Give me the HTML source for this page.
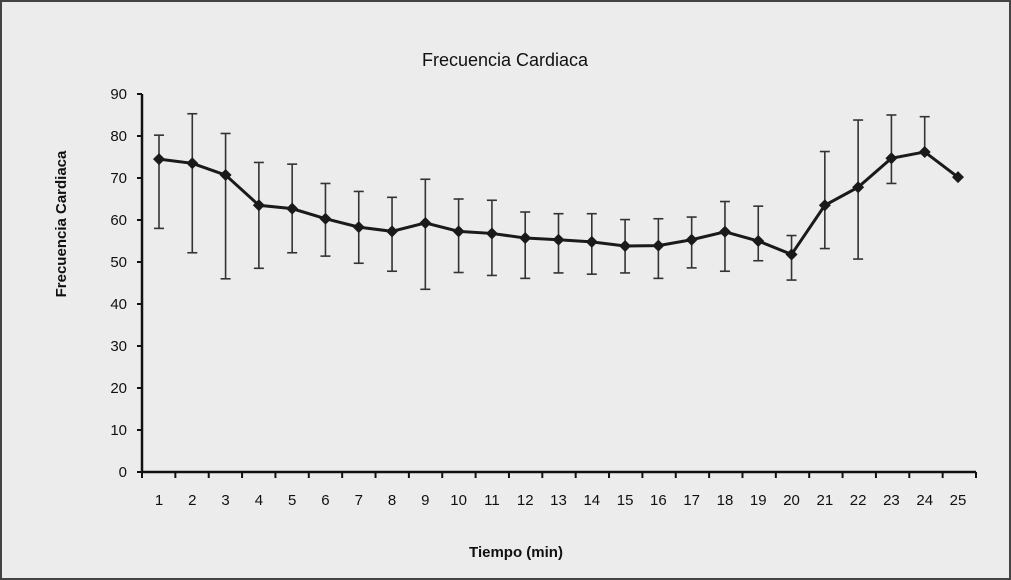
<!DOCTYPE html>
<html><head><meta charset="utf-8"><style>
html,body{margin:0;padding:0;background:#fff}
svg{display:block;font-family:"Liberation Sans",Arial,sans-serif}
</style></head><body>
<svg width="1011" height="580" viewBox="0 0 1011 580">
<rect x="1" y="1" width="1009" height="578" fill="#ececec" stroke="#444" stroke-width="2"/>
<text x="505" y="66" text-anchor="middle" font-size="18" fill="#111">Frecuencia Cardiaca</text>
<text transform="translate(66,224) rotate(-90)" text-anchor="middle" font-size="15" font-weight="bold" fill="#111">Frecuencia Cardiaca</text>
<text x="516" y="557" text-anchor="middle" font-size="15" font-weight="bold" fill="#111">Tiempo (min)</text>
<g id="axes"></g>
<g id="marks"></g>
</svg>
<script>
const categories=[1,2,3,4,5,6,7,8,9,10,11,12,13,14,15,16,17,18,19,20,21,22,23,24,25];
const meanValues=[74.5,73.5,70.7,63.5,62.7,60.3,58.3,57.3,59.3,57.3,56.8,55.7,55.3,54.8,53.8,53.9,55.3,57.2,55,51.8,63.5,67.8,74.7,76.2,70.2];
const upperValues=[80.2,85.3,80.6,73.7,73.3,68.7,66.8,65.4,69.7,65,64.7,61.9,61.5,61.5,60.1,60.3,60.7,64.4,63.3,56.3,76.3,83.8,85,84.6,null];
const lowerValues=[58,52.2,46,48.5,52.2,51.4,49.7,47.8,43.5,47.5,46.8,46.1,47.4,47.1,47.4,46.1,48.6,47.8,50.3,45.7,53.2,50.7,68.7,null,null];
const yTicks=[0,10,20,30,40,50,60,70,80,90];
const NS="http://www.w3.org/2000/svg";
const y=v=>472-v*(378/90);
const x=c=>159+(c-1)*(799/24);
const axes=document.getElementById('axes'), marks=document.getElementById('marks');
function mk(tag,attrs,parent){const e=document.createElementNS(NS,tag);for(const k in attrs)e.setAttribute(k,attrs[k]);parent.appendChild(e);return e;}
let l=mk('line',{x1:142,y1:y(90),x2:142,y2:473,stroke:'#111','stroke-width':2.5},axes);


l=mk('line',{x1:141,y1:472,x2:976,y2:472,stroke:'#111','stroke-width':2.5},axes);


yTicks.forEach(t=>{
  const tk=mk('line',{x1:137,y1:y(t),x2:142,y2:y(t),stroke:'#111','stroke-width':2},axes);
  
  
  const tx=mk('text',{x:127,y:y(t)+5,'text-anchor':'end','font-size':15,fill:'#111'},axes);
  tx.textContent=t;
  
  
});
for(let i=0;i<=categories.length;i++){
  const px=142+i*(834/25);
  const tk=mk('line',{x1:px,y1:472,x2:px,y2:478,stroke:'#111','stroke-width':2},axes);
  
  
}
categories.forEach(c=>{
  const tx=mk('text',{x:x(c),y:505,'text-anchor':'middle','font-size':15,fill:'#111'},axes);
  tx.textContent=c;
  
  
});
categories.forEach((c,i)=>{
  const px=x(c), top=upperValues[i]!=null?upperValues[i]:meanValues[i], bot=lowerValues[i]!=null?lowerValues[i]:meanValues[i];
  const g=mk('g',{stroke:'#333','stroke-width':1.6},marks);
  
  
  mk('line',{x1:px,y1:y(top),x2:px,y2:y(bot)},g);
  if(upperValues[i]!=null)mk('line',{x1:px-5,y1:y(top),x2:px+5,y2:y(top)},g);
  if(lowerValues[i]!=null)mk('line',{x1:px-5,y1:y(bot),x2:px+5,y2:y(bot)},g);
});
const pl=mk('polyline',{points:categories.map((c,i)=>x(c)+','+y(meanValues[i])).join(' '),fill:'none',stroke:'#1a1a1a','stroke-width':3},marks);


categories.forEach((c,i)=>{
  const px=x(c),py=y(meanValues[i]);
  const p=mk('polygon',{points:`${px},${py-6} ${px+6},${py} ${px},${py+6} ${px-6},${py}`,fill:'#1a1a1a'},marks);
  
  
});
</script>
</body></html>
